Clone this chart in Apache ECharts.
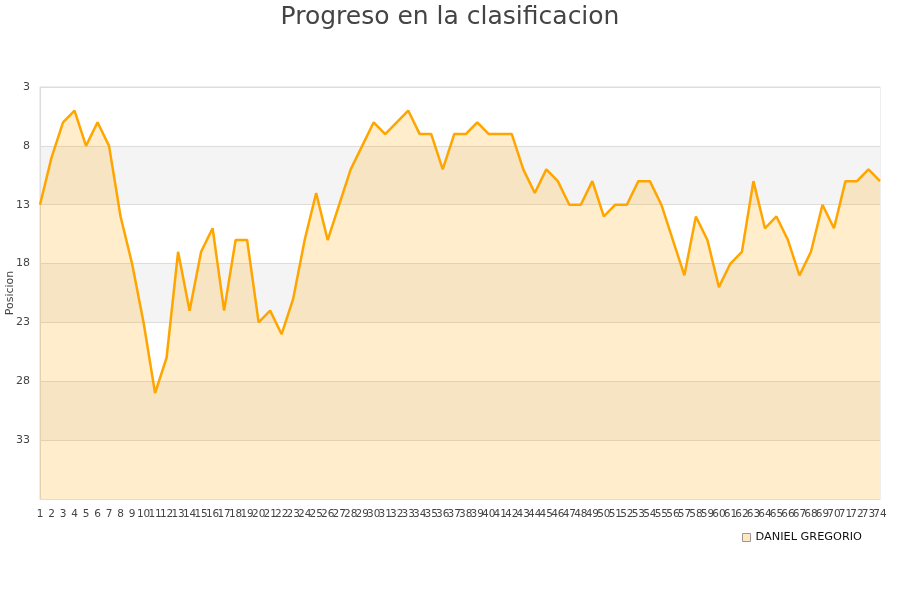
<!DOCTYPE html>
<html><head><meta charset="utf-8">
<script src="https://cdn.jsdelivr.net/npm/echarts@6/dist/echarts.min.js"></script>
<style>html,body{margin:0;padding:0;background:#fff}#c{width:900px;height:600px}</style>
</head><body><div id="c"></div>
<script>
var categories = [];
for (var i = 1; i <= 74; i++) categories.push(String(i));
var seriesName = 'DANIEL GREGORIO';
var positions = [13,9,6,5,8,6,8,14,18,23,29,26,17,22,17,15,22,16,16,23,
22,24,21,16,12,16,13,10,8,6,7,6,5,7,7,10,7,7,6,7,
7,7,10,12,10,11,13,13,11,14,13,13,11,11,13,16,19,14,16,20,
18,17,11,15,14,16,19,17,13,15,11,11,10,11];
var yTicks = {min: 3, max: 38, interval: 5};

var chart = echarts.init(document.getElementById('c'));
chart.setOption({
  animation: false,
  title: {text: 'Progreso en la clasificacion', left: 'center', top: 0,
    textStyle: {fontFamily: 'DejaVu Sans', fontSize: 25, fontWeight: 'normal', color: '#444'}},
  grid: {left: 40, right: 20, top: 87, bottom: 101, show: true, borderColor: '#ddd', borderWidth: 1,
    backgroundColor: 'transparent', containLabel: false, outerBoundsMode: 'none'},
  legend: {right: 33, top: 527, icon: 'rect', itemWidth: 8, itemHeight: 8, itemGap: 9,
    data: [{name: seriesName, itemStyle: {color: 'rgba(255,165,0,0.25)', borderColor: '#999', borderWidth: 1}}],
    textStyle: {fontFamily: 'DejaVu Sans', fontSize: 11.3, color: '#111'}},
  xAxis: {type: 'category', data: categories, boundaryGap: false,
    axisLine: {show: true, lineStyle: {color: '#ddd'}}, axisTick: {show: false},
    axisLabel: {interval: 0, fontFamily: 'DejaVu Sans', fontSize: 10.5, color: '#444', margin: 10},
    splitLine: {show: false}},
  yAxis: {type: 'value', inverse: true, min: yTicks.min, max: yTicks.max, interval: yTicks.interval,
    name: 'Posicion', nameLocation: 'middle', nameGap: 24, nameMoveOverlap: false,
    nameTextStyle: {fontFamily: 'DejaVu Sans', fontSize: 11, color: '#444'},
    axisLine: {show: true, lineStyle: {color: '#ddd'}}, axisTick: {show: false},
    axisLabel: {fontFamily: 'DejaVu Sans', fontSize: 11, color: '#444', margin: 10,
      formatter: function (v) { return v >= 38 ? '' : v; }},
    splitLine: {show: true, lineStyle: {color: '#ddd'}},
    splitArea: {show: true, areaStyle: {color: ['#ffffff', '#f4f4f4']}}},
  series: [{name: seriesName, type: 'line', data: positions, symbol: 'none',
    lineStyle: {color: '#ffa500', width: 2.5},
    itemStyle: {color: 'rgba(255,165,0,0.25)'},
    areaStyle: {color: 'rgba(255,165,0,0.2)', opacity: 1, origin: 'end'}}]
});
</script></body></html>
